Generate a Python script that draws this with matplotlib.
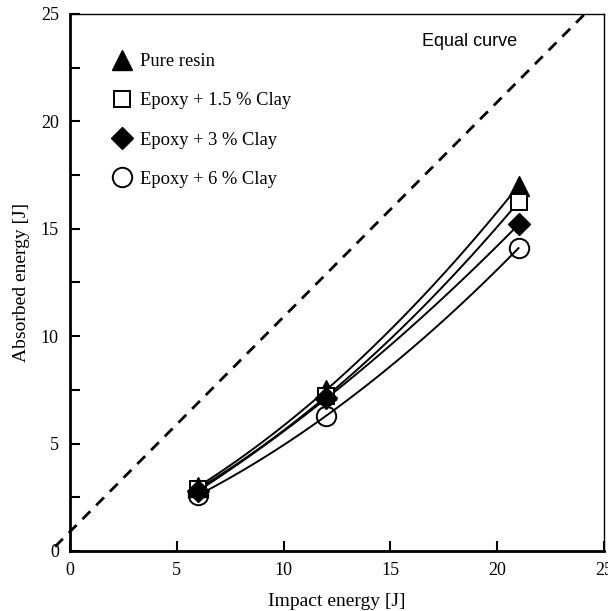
import matplotlib
matplotlib.use("Agg")
import matplotlib.pyplot as plt
import numpy as np
from matplotlib.lines import Line2D

# impact energy levels [J]
impact = [6, 12, 21]

# absorbed energy [J]
pure_resin = [3.0, 7.5, 17.0]
clay_15 = [2.9, 7.2, 16.25]
clay_3 = [2.8, 7.1, 15.2]
clay_6 = [2.6, 6.3, 14.1]

labels = ["Pure resin", "Epoxy + 1.5 % Clay", "Epoxy + 3 % Clay", "Epoxy + 6 % Clay"]

# equal-energy reference line (offset as drawn in the source)
equal_x = [-0.7, 24.1]
equal_offset = 0.9

plt.rcParams['font.family'] = ['Liberation Serif', 'DejaVu Serif']

fig = plt.figure(figsize=(6.08, 6.11), dpi=100)
ax = fig.add_axes([0.1151, 0.0982, 0.8783, 0.8789])

series = [
    (pure_resin, dict(marker='^', ms=15, mfc='black', mec='black')),
    (clay_15, dict(marker='s', ms=11, mfc='white', mec='black', mew=1.4)),
    (clay_3, dict(marker='D', ms=11, mfc='black', mec='black')),
    (clay_6, dict(marker='o', ms=14, mfc='none', mec='black', mew=1.4)),
]

handles = []
for (vals, st), lab in zip(series, labels):
    # smooth curve through the three points (quadratic)
    c = np.polyfit(impact, vals, 2)
    xs = np.linspace(impact[0], impact[-1], 100)
    ax.plot(xs, np.polyval(c, xs), color='black', lw=1.4, zorder=2)
    ax.plot(impact, vals, linestyle='none', zorder=3, **st)
    handles.append(Line2D([], [], linestyle='none', label=lab, **st))

ex = np.array(equal_x)
ax.plot(ex, ex + equal_offset, color='black', lw=2, linestyle=(0, (4, 3)),
        clip_on=False, zorder=1)
ax.text(16.5, 23.7, "Equal curve", family='Liberation Sans', fontsize=13,
        va='center', ha='left')

ax.set_xlim(0, 25)
ax.set_ylim(0, 25)
ax.set_xticks([0, 5, 10, 15, 20, 25])
ax.set_yticks([0, 5, 10, 15, 20, 25])
ax.set_yticks(np.arange(0, 25.1, 2.5), minor=True)
ax.tick_params(which='both', direction='in', labelsize=13, width=1.5)
ax.tick_params(which='major', length=7, pad=8)
ax.tick_params(which='minor', length=7)
ax.tick_params(axis='x', which='major', top=False)

ax.spines['left'].set_linewidth(2)
ax.spines['bottom'].set_linewidth(2)
ax.spines['top'].set_linewidth(1)
ax.spines['right'].set_linewidth(1)

ax.set_xlabel("Impact energy [J]", fontsize=14, labelpad=10)
ax.set_ylabel("Absorbed energy [J]", fontsize=14, labelpad=8)

ax.legend(handles=handles, loc='upper left', bbox_to_anchor=(0.045, 0.958),
          frameon=False, fontsize=13.3, handletextpad=0.4, labelspacing=1.2,
          handlelength=1.2)

fig.savefig("out.png", dpi=100)
